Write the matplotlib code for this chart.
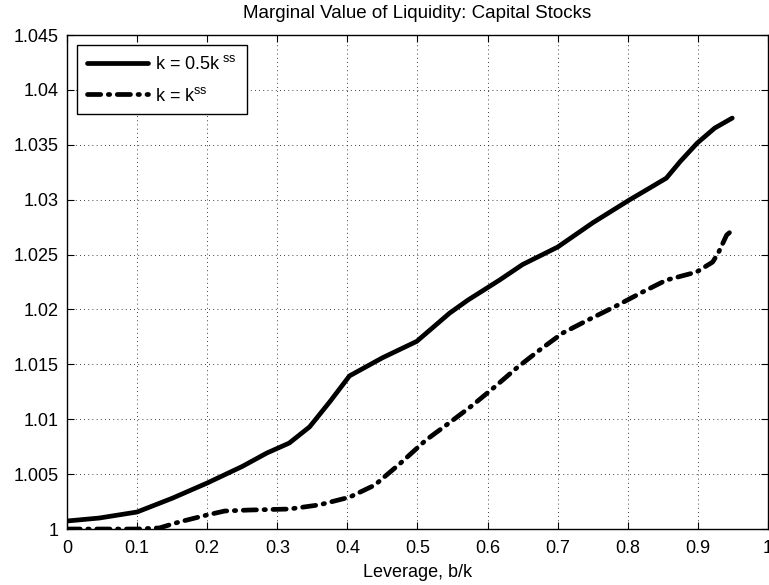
import matplotlib
matplotlib.use("Agg")
import matplotlib.pyplot as plt
import numpy as np

plt.rcParams['font.family'] = ['Liberation Sans', 'DejaVu Sans']
plt.rcParams['mathtext.fontset'] = 'custom'
plt.rcParams['mathtext.rm'] = 'Liberation Sans'
plt.rcParams['mathtext.it'] = 'Liberation Sans'

# Data
x_half = [0.0, 0.046, 0.1, 0.15, 0.2, 0.25, 0.285, 0.317, 0.346, 0.375, 0.403,
          0.45, 0.499, 0.546, 0.572, 0.617, 0.65, 0.70, 0.75, 0.802, 0.831,
          0.855, 0.875, 0.899, 0.924, 0.949]
y_half = [1.00073, 1.0010, 1.00155, 1.0028, 1.00419, 1.0057, 1.00692, 1.00783,
          1.0093, 1.0116, 1.01395, 1.0156, 1.0171, 1.01968, 1.02086, 1.02268,
          1.0241, 1.02569, 1.0279, 1.02997, 1.03106, 1.03197, 1.0335, 1.03516,
          1.03653, 1.03744]

x_ss = [0.0, 0.05, 0.1, 0.132, 0.16, 0.2, 0.225, 0.26, 0.317, 0.36, 0.403,
        0.439, 0.474, 0.512, 0.546, 0.579, 0.61, 0.642, 0.674, 0.707, 0.745,
        0.783, 0.821, 0.855, 0.898, 0.921, 0.929, 0.941, 0.945]
y_ss = [1.0, 1.0, 1.0, 1.0001, 1.00064, 1.00128, 1.00164, 1.00173, 1.00182,
        1.0022, 1.0029, 1.0040, 1.0059, 1.0081, 1.0097, 1.0113, 1.01294,
        1.0147, 1.0163, 1.01785, 1.0191, 1.02031, 1.02159, 1.02268, 1.02341,
        1.02432, 1.02514, 1.02678, 1.0270]

label_half = r'k = 0.5k$^{\ \mathrm{ss}}$'
label_ss = r'k = k$^{\mathrm{ss}}$'

fig = plt.figure(figsize=(7.69, 5.85), dpi=100)
ax = fig.add_axes([0.0871, 0.0957, 0.9116, 0.8443])

ax.plot(x_half, y_half, color='black', lw=3.4, solid_capstyle='round',
        solid_joinstyle='round', label=label_half)
ax.plot(x_ss, y_ss, color='black', lw=3.4, dash_capstyle='round',
        linestyle=(0, (2.8, 1.6, 0.3, 1.6)), label=label_ss)

ax.set_xlim(0, 1)
ax.set_ylim(1, 1.045)
ax.set_xticks(np.arange(0, 1.01, 0.1))
ax.set_xticklabels(['0', '0.1', '0.2', '0.3', '0.4', '0.5', '0.6', '0.7', '0.8', '0.9', '1'])
ax.set_yticks([1, 1.005, 1.01, 1.015, 1.02, 1.025, 1.03, 1.035, 1.04, 1.045])
ax.set_yticklabels(['1', '1.005', '1.01', '1.015', '1.02', '1.025', '1.03', '1.035', '1.04', '1.045'])
ax.tick_params(direction='in', top=True, right=True, labelsize=13, length=5, width=0.8)
ax.tick_params(axis='x', pad=8)
ax.tick_params(axis='y', pad=6)
ax.grid(True, color='black', linestyle=(0, (1, 4)), linewidth=0.6)
for s in ax.spines.values():
    s.set_linewidth(1.0)

ax.set_title('Marginal Value of Liquidity: Capital Stocks', fontsize=13.5, pad=12)
ax.set_xlabel('Leverage, b/k', fontsize=13, labelpad=5)

leg = ax.legend(loc='upper left', fontsize=13, handlelength=3.4, handletextpad=0.4,
                borderaxespad=0.55, fancybox=False, framealpha=1, edgecolor='black',
                borderpad=0.55, labelspacing=0.75)
leg.get_frame().set_linewidth(1.0)

fig.savefig('out.png', dpi=100)
